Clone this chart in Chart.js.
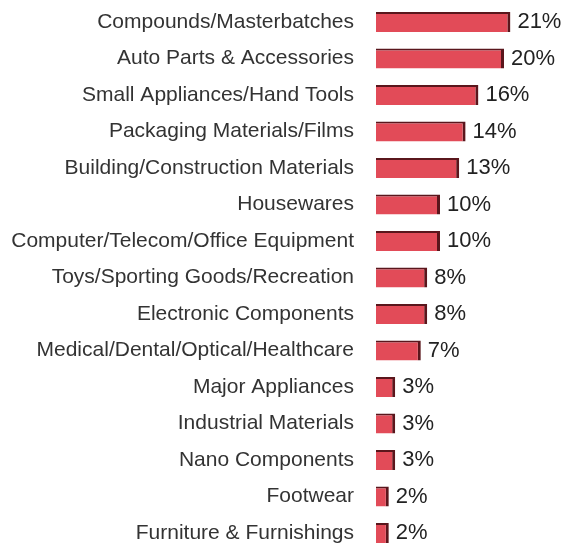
<!DOCTYPE html>
<html lang="en">
<head>
    <meta charset="UTF-8">
    <title>Applications</title>
    <script src="https://cdn.jsdelivr.net/npm/chart.js"></script>
    <style>
        body { margin: 0; background: #fff; }
        #wrap { width: 585px; height: 544px; }
    </style>
</head>
<body>
<div id="wrap"><canvas id="chart" width="585" height="544"></canvas></div>
<script>
    const categories = [
        'Compounds/Masterbatches',
        'Auto Parts & Accessories',
        'Small Appliances/Hand Tools',
        'Packaging Materials/Films',
        'Building/Construction Materials',
        'Housewares',
        'Computer/Telecom/Office Equipment',
        'Toys/Sporting Goods/Recreation',
        'Electronic Components',
        'Medical/Dental/Optical/Healthcare',
        'Major Appliances',
        'Industrial Materials',
        'Nano Components',
        'Footwear',
        'Furniture & Furnishings'
    ];
    const shares = [21, 20, 16, 14, 13, 10, 10, 8, 8, 7, 3, 3, 3, 2, 2];

    // percent labels to the right of each bar
    const valueLabels = {
        id: 'valueLabels',
        afterDatasetsDraw(chart) {
            const ctx = chart.ctx;
            const meta = chart.getDatasetMeta(0);
            ctx.save();
            ctx.font = '22px "Liberation Sans", Arial, sans-serif';
            ctx.fillStyle = '#222';
            ctx.textBaseline = 'middle';
            meta.data.forEach((bar, i) => {
                ctx.fillText(shares[i] + '%', bar.x + 7, bar.y);
            });
            ctx.restore();
        }
    };

    new Chart(document.getElementById('chart'), {
        type: 'bar',
        data: {
            labels: categories,
            datasets: [{
                data: shares,
                backgroundColor: '#e24b58',
                borderColor: '#5a161c',
                borderWidth: { top: 2, right: 3, bottom: 0, left: 0 },
                borderSkipped: false,
                barPercentage: 0.55,
                categoryPercentage: 1,
                clip: false
            }]
        },
        options: {
            indexAxis: 'y',
            responsive: false,
            animation: false,
            layout: { padding: { top: 22, bottom: 11, left: 0, right: 17 } },
            plugins: {
                legend: { display: false },
                tooltip: { enabled: false }
            },
            scales: {
                x: {
                    display: false,
                    min: 0,
                    max: 30
                },
                y: {
                    offset: false,
                    grid: { display: false },
                    border: { display: false },
                    afterFit(scale) {
                        scale.width = 376;
                        scale.paddingTop = 0;
                        scale.paddingBottom = 0;
                    },
                    ticks: {
                        padding: 14,
                        color: '#333',
                        font: { family: '"Liberation Sans", Arial, sans-serif', size: 21 }
                    }
                }
            }
        },
        plugins: [valueLabels]
    });
</script>
</body>
</html>
